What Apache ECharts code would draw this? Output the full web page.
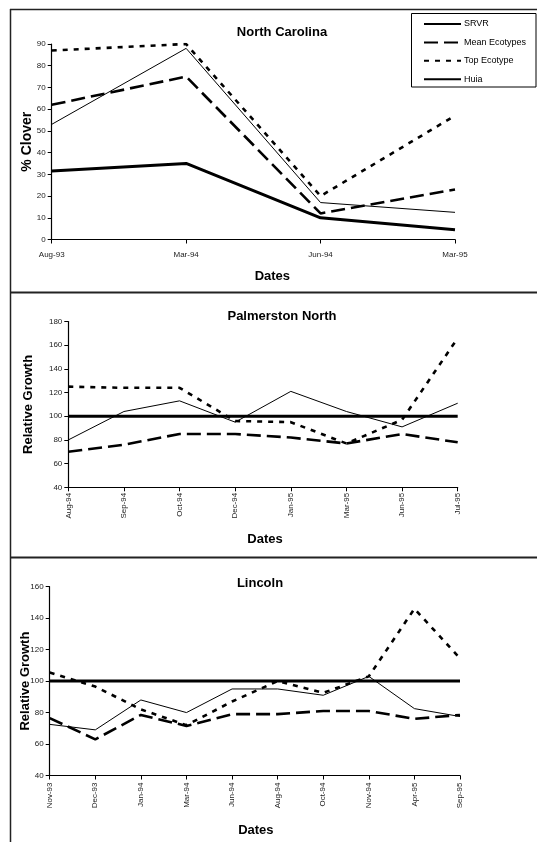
<!DOCTYPE html>
<html><head><meta charset="utf-8">
<script src="https://cdn.jsdelivr.net/npm/echarts@6/dist/echarts.min.js"></script>
<style>html,body{margin:0;padding:0;background:#fff}#c{width:537px;height:842px}</style>
</head><body><div id="c"></div>
<script>
// North Carolina
const ncDates = ['Aug-93', 'Mar-94', 'Jun-94', 'Mar-95'];
const ncSRVR = [53, 88, 17, 12.5];
const ncMean = [62, 75, 12, 23];
const ncTop = [87, 90, 20, 57];
const ncHuia = [31.5, 35, 10, 4.5];
const ncTicks = [0, 90, 10];

// Palmerston North
const pnDates = ['Aug-94', 'Sep-94', 'Oct-94', 'Dec-94', 'Jan-95', 'Mar-95', 'Jun-95', 'Jul-95'];
const pnSRVR = [80, 104, 113, 95, 121, 104, 91, 111];
const pnMean = [70, 76, 85, 85, 82, 77, 85, 78];
const pnTop = [125, 124, 124, 96, 95, 77, 97, 166];
const pnHuia = [100, 100, 100, 100, 100, 100, 100, 100];
const pnTicks = [40, 180, 20];

// Lincoln
const lnDates = ['Nov-93', 'Dec-93', 'Jan-94', 'Mar-94', 'Jun-94', 'Aug-94', 'Oct-94', 'Nov-94', 'Apr-95', 'Sep-95'];
const lnSRVR = [72.5, 69, 88, 80, 95, 95, 91, 103, 82.5, 77.5];
const lnMean = [76.5, 63, 78.5, 71.5, 79, 79, 81, 81, 76, 78.5];
const lnTop = [105.5, 96.5, 82, 72, 87, 100, 92.5, 103, 146, 114.5];
const lnHuia = [100, 100, 100, 100, 100, 100, 100, 100, 100, 100];
const lnTicks = [40, 160, 20];

const seriesNames = ['SRVR', 'Mean Ecotypes', 'Top Ecotype', 'Huia'];
const titles = ['North Carolina', 'Palmerston North', 'Lincoln'];

const FONT = 'Liberation Sans, Arial, sans-serif';
const styles = {
  'SRVR': {color: '#000', width: 1, type: 'solid'},
  'Mean Ecotypes': {color: '#000', width: 2.6, type: [14, 6]},
  'Top Ecotype': {color: '#000', width: 2.6, type: [5, 6]},
  'Huia': {color: '#000', width: 3, type: 'solid'}
};

function mkSeries(idx, arrs) {
  return seriesNames.map((n, i) => ({
    name: n, type: 'line', xAxisIndex: idx, yAxisIndex: idx,
    data: arrs[i], symbol: 'none', lineStyle: styles[n], color: '#000',
    emphasis: {disabled: true}, z: i === 0 ? 4 : 3
  }));
}

function xAx(idx, cats, rotate, margin, nameGap, namePad) {
  return {
    type: 'category', gridIndex: idx, data: cats, boundaryGap: false,
    axisLine: {lineStyle: {color: '#000', width: 1.2}},
    axisTick: {show: true, alignWithLabel: true, length: 4, lineStyle: {color: '#000'}},
    axisLabel: {rotate: rotate, margin: margin, color: '#222', fontSize: 8, fontFamily: FONT, interval: 0},
    name: 'Dates', nameLocation: 'middle', nameGap: nameGap, nameMoveOverlap: false,
    nameTextStyle: {fontSize: 13, fontWeight: 'bold', fontFamily: FONT, color: '#000', padding: namePad}
  };
}
function yAx(idx, ticks, name, nameGap, nameSize) {
  return {
    type: 'value', gridIndex: idx, min: ticks[0], max: ticks[1], interval: ticks[2],
    axisLine: {show: true, lineStyle: {color: '#000', width: 1.2}},
    axisTick: {show: true, length: 4, lineStyle: {color: '#000'}},
    splitLine: {show: false},
    axisLabel: {margin: 6, color: '#222', fontSize: 8, fontFamily: FONT},
    name: name, nameLocation: 'middle', nameRotate: 90, nameGap: nameGap, nameMoveOverlap: false,
    nameTextStyle: {fontSize: nameSize, fontWeight: 'bold', fontFamily: FONT, color: '#000'}
  };
}

const chart = echarts.init(document.getElementById('c'), null, {renderer: 'canvas'});
chart.setOption({
  animation: false,
  backgroundColor: '#fff',
  title: [
    {text: titles[0], left: 282, top: 26, textAlign: 'center', padding: 0, textStyle: {fontSize: 13, fontWeight: 'bold', fontFamily: FONT, color: '#000'}},
    {text: titles[1], left: 282, top: 310, textAlign: 'center', padding: 0, textStyle: {fontSize: 13, fontWeight: 'bold', fontFamily: FONT, color: '#000'}},
    {text: titles[2], left: 260, top: 577, textAlign: 'center', padding: 0, textStyle: {fontSize: 13, fontWeight: 'bold', fontFamily: FONT, color: '#000'}}
  ],
  legend: {
    data: seriesNames, orient: 'vertical', left: 423, top: 18,
    itemWidth: 37, itemHeight: 12, itemGap: 6.4,
    padding: 0,
    selectedMode: false,
    itemStyle: {opacity: 0},
    textStyle: {fontSize: 9, lineHeight: 12, fontFamily: FONT, color: '#000', padding: [0, 0, 0, -2]}
  },
  grid: [
    {left: 51.7, top: 44, width: 403.3, height: 195.5, outerBoundsMode: 'none'},
    {left: 68.3, top: 321.5, width: 389.4, height: 165.8, outerBoundsMode: 'none'},
    {left: 49.7, top: 586.7, width: 410.3, height: 188.8, outerBoundsMode: 'none'}
  ],
  xAxis: [
    xAx(0, ncDates, 0, 11, 30, [0, 0, 0, 38]),
    xAx(1, pnDates, 90, 5.5, 46, [0, 0, 0, 4]),
    xAx(2, lnDates, 90, 7, 48, [0, 0, 0, 2])
  ],
  yAxis: [
    yAx(0, ncTicks, '% Clover', 18, 14),
    yAx(1, pnTicks, 'Relative Growth', 33, 13),
    yAx(2, lnTicks, 'Relative Growth', 18, 13)
  ],
  series: [].concat(
    mkSeries(0, [ncSRVR, ncMean, ncTop, ncHuia]),
    mkSeries(1, [pnSRVR, pnMean, pnTop, pnHuia]),
    mkSeries(2, [lnSRVR, lnMean, lnTop, lnHuia])
  ),
  graphic: [
    {type: 'line', shape: {x1: 10.5, y1: 9, x2: 10.5, y2: 842}, style: {stroke: '#222', lineWidth: 1.5}, silent: true},
    {type: 'line', shape: {x1: 10, y1: 9.5, x2: 537, y2: 9.5}, style: {stroke: '#222', lineWidth: 1.5}, silent: true},
    {type: 'line', shape: {x1: 10, y1: 292.5, x2: 537, y2: 292.5}, style: {stroke: '#222', lineWidth: 2}, silent: true},
    {type: 'line', shape: {x1: 10, y1: 557.5, x2: 537, y2: 557.5}, style: {stroke: '#222', lineWidth: 2}, silent: true},
    {type: 'rect', shape: {x: 411.5, y: 13.5, width: 124.5, height: 73.5}, style: {fill: 'none', stroke: '#000', lineWidth: 1}, silent: true, z: 10}
  ]
});
</script></body></html>
